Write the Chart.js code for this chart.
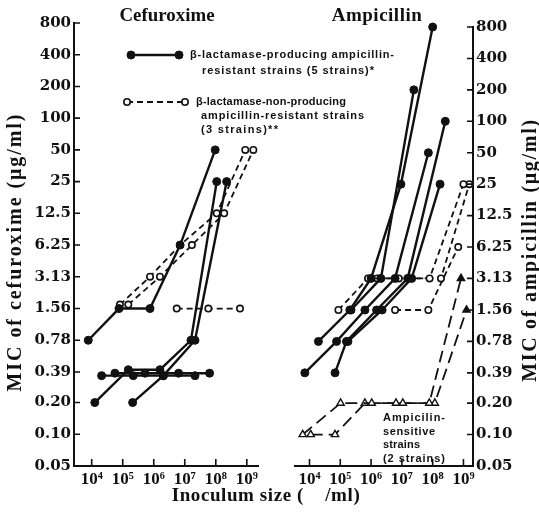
<!DOCTYPE html>
<html>
<head>
<meta charset="utf-8">
<script src="https://cdn.jsdelivr.net/npm/chart.js@4.4.0/dist/chart.umd.min.js"></script>
<style>
body{margin:0;background:#fff}
#wrap{position:relative;width:539px;height:512px}
canvas{position:absolute;left:0;top:0}
</style>
</head>
<body>
<div id="wrap">
<canvas id="cL" width="539" height="512"></canvas>
<canvas id="cR" width="539" height="512"></canvas>
</div>
<script>
// MIC axis (doubling dilutions) and inoculum axis
const yTicks = [0.05,0.1,0.2,0.39,0.78,1.56,3.13,6.25,12.5,25,50,100,200,400,800]
const yTickLabels = ['0.05','0.10','0.20','0.39','0.78','1.56','3.13','6.25','12.5','25','50','100','200','400','800']
const xTickExp = [4,5,6,7,8,9]
const xTickLabels = ['10⁴','10⁵','10⁶','10⁷','10⁸','10⁹']

// inoculum given as log10(/ml), MIC in ug/ml, one inner array per strain
// cefuroxime, beta-lactamase producing (5 strains)
const cefProdInoc = [[3.89,4.88,5.88,6.85,7.98],[4.1,5.18,6.2,7.2,8.03],[5.32,6.31,7.33,8.35],[4.32,5.34,6.31,7.33],[4.75,5.72,6.8,7.8]]
const cefProdMic  = [[0.78,1.56,1.56,6.25,50],[0.2,0.41,0.41,0.78,25],[0.2,0.36,0.78,25],[0.36,0.36,0.36,0.36],[0.38,0.38,0.38,0.38]]
// cefuroxime, beta-lactamase non producing (3 strains)
const cefNonInoc = [[4.91,5.88,6.85,8.03,8.95],[5.18,6.2,7.23,8.27,9.21],[6.74,7.76,8.78]]
const cefNonMic  = [[1.7,3.13,6.25,12.5,50],[1.7,3.13,6.25,12.5,50],[1.56,1.56,1.56]]
// ampicillin, beta-lactamase producing
const ampProdInoc = [[3.85,4.88,5.8,6.78,7.86],[4.29,5.31,6.0,6.97,8.0],[4.83,5.2,6.18,7.19,8.41],[5.25,6.36,7.32,8.24],[5.35,6.32,7.39]]
const ampProdMic  = [[0.39,0.78,1.56,3.13,50],[0.78,1.56,3.13,25,800],[0.39,0.78,1.56,3.13,100],[0.78,1.56,3.13,25],[1.56,3.13,200]]
// ampicillin, beta-lactamase non producing
const ampNonInoc = [[4.94,5.9,6.9,7.9,9.0],[6.2,7.2,8.27,9.19],[6.78,7.86,8.83]]
const ampNonMic  = [[1.56,3.13,3.13,3.13,25],[3.13,3.13,3.13,25],[1.56,1.56,6.25]]
// ampicillin sensitive strains (2 strains)
const ampSensInoc = [[3.78,5.01,6.02,7.03,7.89,8.92],[4.04,4.83,5.8,6.81,8.07,9.1]]
const ampSensMic  = [[0.1,0.2,0.2,0.2,0.2,3.13],[0.1,0.1,0.2,0.2,0.2,1.56]]

const ink = '#111'
const solid = {showLine:true,borderColor:ink,borderWidth:2.4,pointRadius:4,pointBackgroundColor:ink,pointBorderColor:ink,pointBorderWidth:1,clip:false}
const dashed = {showLine:true,borderColor:ink,borderWidth:1.8,borderDash:[6,4],pointRadius:3.2,pointBackgroundColor:'#fff',pointBorderColor:ink,pointBorderWidth:1.6,clip:false}
const longDash = {showLine:true,borderColor:ink,borderWidth:1.8,borderDash:[12,6],pointStyle:'triangle',pointRadius:4.2,
  pointBackgroundColor:c=>c.dataIndex===c.dataset.data.length-1?ink:'#fff',pointBorderColor:ink,pointBorderWidth:1.4,clip:false}

function series(inoc,mic,style){
  return inoc.map((xs,k)=>Object.assign({data:xs.map((e,i)=>({x:Math.pow(10,e),y:mic[k][i]}))},style))
}

// draw text stretched with letter spacing to a given width
function fitText(ctx,s,x,y,w,align){
  ctx.letterSpacing='0px'
  let n=ctx.measureText(s).width
  ctx.textAlign=align
  if(w>n){
    ctx.letterSpacing=((w-n)/Math.max(1,s.length-1))+'px'
    ctx.fillText(s,x,y)
    ctx.letterSpacing='0px'
  }else ctx.fillText(s,x,y,w)
}

const inTicks = {
  id:'inTicks',
  afterDraw(chart){
    const {ctx,chartArea:a,scales:{x,y}}=chart
    ctx.save()
    ctx.strokeStyle=ink;ctx.lineWidth=1.6
    ctx.beginPath()
    y.ticks.forEach(t=>{
      let py=y.getPixelForValue(t.value)
      if(y.position==='right'){ctx.moveTo(a.right-6,py);ctx.lineTo(a.right,py)}
      else{ctx.moveTo(a.left,py);ctx.lineTo(a.left+6,py)}
    })
    x.ticks.forEach(t=>{
      let px=x.getPixelForValue(t.value)
      ctx.moveTo(px,a.bottom);ctx.lineTo(px,a.bottom-7)
    })
    ctx.stroke()
    ctx.restore()
  }
}

function dot(ctx,x,y,r,fill){
  ctx.beginPath();ctx.arc(x,y,r,0,Math.PI*2)
  ctx.fillStyle=fill;ctx.fill();ctx.stroke()
}

const leftDecor = {
  id:'leftDecor',
  afterDraw(chart){
    const ctx=chart.ctx
    ctx.save()
    ctx.fillStyle=ink;ctx.textBaseline='middle'
    ctx.font='bold 19px "Liberation Serif"'
    fitText(ctx,'Cefuroxime',167,16,95,'center')
    fitText(ctx,'Ampicillin',377,16,90,'center')
    fitText(ctx,'Inoculum size (    /ml)',266,496,188,'center')
    ctx.save()
    ctx.translate(16,252);ctx.rotate(-Math.PI/2)
    ctx.font='bold 20px "Liberation Serif"'
    fitText(ctx,'MIC of cefuroxime (μg/ml)',0,0,277,'center')
    ctx.restore()
    // legend
    ctx.strokeStyle=ink
    ctx.lineWidth=2.4
    ctx.beginPath();ctx.moveTo(131,55);ctx.lineTo(179,55);ctx.stroke()
    ctx.lineWidth=1
    dot(ctx,131,55,4,ink);dot(ctx,179,55,4,ink)
    ctx.lineWidth=1.8;ctx.setLineDash([6,4])
    ctx.beginPath();ctx.moveTo(127,102);ctx.lineTo(185,102);ctx.stroke()
    ctx.setLineDash([]);ctx.lineWidth=1.6
    dot(ctx,127,102,3.2,'#fff');dot(ctx,185,102,3.2,'#fff')
    ctx.fillStyle=ink
    ctx.font='bold 11px "Liberation Sans"'
    fitText(ctx,'β-lactamase-producing ampicillin-',190,55,204,'left')
    fitText(ctx,'resistant strains (5 strains)*',202,71,172,'left')
    fitText(ctx,'β-lactamase-non-producing',196,102,150,'left')
    fitText(ctx,'ampicillin-resistant strains',201,116,163,'left')
    fitText(ctx,'(3 strains)**',201,130,77,'left')
    ctx.restore()
  }
}

const rightDecor = {
  id:'rightDecor',
  afterDraw(chart){
    const ctx=chart.ctx
    ctx.save()
    ctx.fillStyle=ink;ctx.textBaseline='middle'
    ctx.font='bold 11px "Liberation Sans"'
    fitText(ctx,'Ampicilin-',383,418,62,'left')
    fitText(ctx,'sensitive',383,432,52,'left')
    fitText(ctx,'strains',383,445,37,'left')
    fitText(ctx,'(2 strains)',383,459,62,'left')
    ctx.translate(531,250);ctx.rotate(-Math.PI/2)
    ctx.font='bold 20px "Liberation Serif"'
    fitText(ctx,'MIC of ampicillin (μg/ml)',0,0,262,'center')
    ctx.restore()
  }
}

function axes(xMin,xMax,yPos,yWidth){
  const tickFont={family:'DejaVu Serif',size:15,weight:'bold'}
  return {
    x:{type:'logarithmic',min:Math.pow(10,xMin),max:Math.pow(10,xMax),
      afterBuildTicks:s=>{s.ticks=xTickExp.map(e=>({value:Math.pow(10,e)}))},
      afterFit:s=>{s.height=46},
      grid:{display:false,drawTicks:false},border:{color:ink,width:2},
      ticks:{autoSkip:false,maxRotation:0,padding:3,color:ink,font:{family:'Liberation Serif',size:17,weight:'bold'},callback:(v,i)=>xTickLabels[i]}},
    y:{type:'logarithmic',position:yPos,min:0.05,max:800,
      afterBuildTicks:s=>{s.ticks=yTicks.map(v=>({value:v}))},
      afterFit:s=>{s.width=yWidth},
      grid:{display:false,drawTicks:false},border:{color:ink,width:2},
      ticks:{autoSkip:false,padding:3,color:ink,font:tickFont,callback:(v,i)=>yTickLabels[i]}}
  }
}

const common = {responsive:false,animation:false,events:[],
  plugins:{legend:{display:false},tooltip:{enabled:false},title:{display:false}}}

new Chart(document.getElementById('cL'),{
  type:'scatter',
  data:{datasets:[...series(cefProdInoc,cefProdMic,solid),...series(cefNonInoc,cefNonMic,dashed)]},
  options:Object.assign({},common,{
    layout:{padding:{left:0,right:281,top:23,bottom:0}},
    scales:axes(3.43,9.36,'left',74)
  }),
  plugins:[inTicks,leftDecor]
})

new Chart(document.getElementById('cR'),{
  type:'scatter',
  data:{datasets:[...series(ampProdInoc,ampProdMic,solid),...series(ampNonInoc,ampNonMic,dashed),...series(ampSensInoc,ampSensMic,longDash)]},
  options:Object.assign({},common,{
    layout:{padding:{left:295,right:0,top:27,bottom:0}},
    scales:axes(3.53,9.31,'right',66)
  }),
  plugins:[inTicks,rightDecor]
})
</script>
</body>
</html>
